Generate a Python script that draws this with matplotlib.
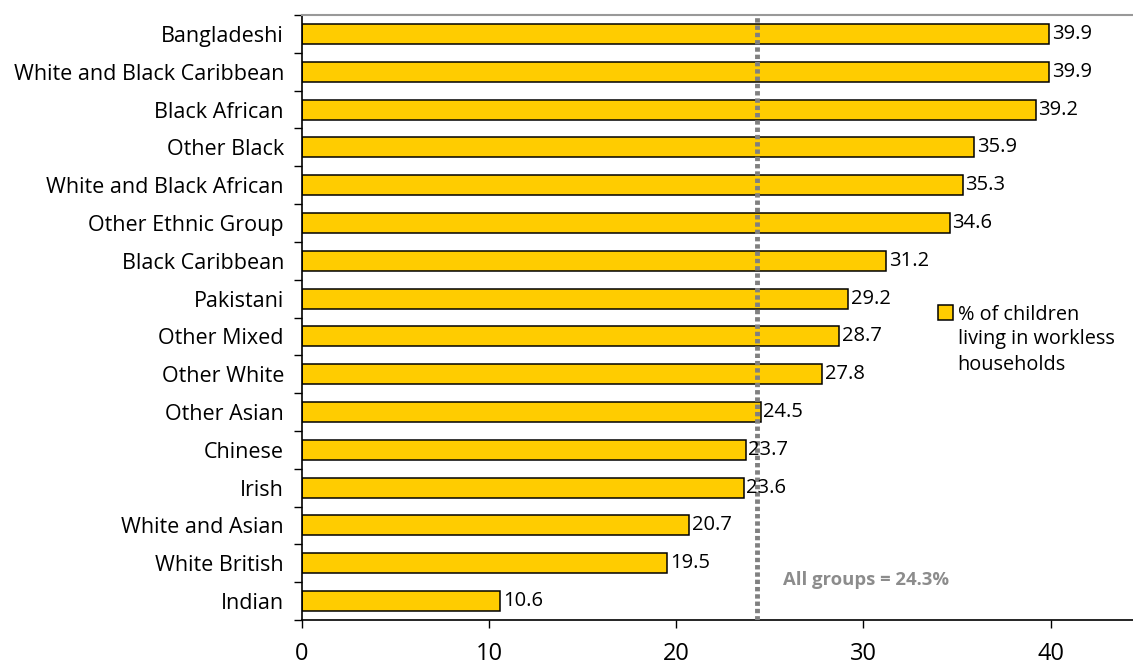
import numpy as np
import matplotlib.pyplot as plt
from matplotlib.patches import Patch

plt.rcParams['font.family'] = ['Open Sans', 'DejaVu Sans']

# share of children living in workless households, by ethnic group
groups = ['Bangladeshi', 'White and Black Caribbean', 'Black African', 'Other Black',
          'White and Black African', 'Other Ethnic Group', 'Black Caribbean', 'Pakistani',
          'Other Mixed', 'Other White', 'Other Asian', 'Chinese', 'Irish',
          'White and Asian', 'White British', 'Indian']
pct = [39.9, 39.9, 39.2, 35.9, 35.3, 34.6, 31.2, 29.2, 28.7, 27.8, 24.5, 23.7, 23.6,
       20.7, 19.5, 10.6]
all_groups = 24.3
xticks = [0, 10, 20, 30, 40]

fig = plt.figure(figsize=(11.33, 6.64), dpi=100)
ax = fig.add_axes([0.2665, 0.0663, 0.7335, 0.911])

y = np.arange(len(groups))
ax.barh(y, pct, height=0.53, color='#FFCC00', edgecolor='black', linewidth=1.1, zorder=2)
for yi, v in zip(y, pct):
    ax.text(v + 0.15, yi, f'{v:.1f}', va='center', ha='left', fontsize=14.5, zorder=4)

ax.axvline(all_groups, color='#808080', linestyle=(0, (0.9, 0.6)), linewidth=3.5, zorder=3)
ax.text(25.7, 14.45, f'All groups = {all_groups}%', color='#8c8c8c', fontsize=13.3,
        fontweight='bold', va='center', ha='left')

ax.set_ylim(len(groups) - 0.5, -0.5)
ax.set_xlim(0, 44.4)
ax.set_yticks(y)
ax.set_yticklabels(groups, fontsize=15.5)
ax.set_yticks(np.arange(len(groups) + 1) - 0.5, minor=True)
ax.tick_params(axis='y', which='major', length=0, pad=13)
ax.tick_params(axis='y', which='minor', length=6, width=1, direction='out')
ax.set_xticks(xticks)
ax.set_xticklabels([str(t) for t in xticks], fontsize=17)
ax.tick_params(axis='x', length=6, width=1, direction='out', pad=10)

ax.spines['right'].set_visible(False)
ax.spines['top'].set_color('#999999')
ax.spines['top'].set_linewidth(1.5)
ax.spines['left'].set_linewidth(1.2)
ax.spines['bottom'].set_linewidth(1.2)

# legend: swatch beside the first line, remaining lines wrap underneath
handle = Patch(facecolor='#FFCC00', edgecolor='black', linewidth=1.1)
leg = ax.legend([handle], ['% of children'], loc='center left',
                bbox_to_anchor=(0.765, 0.505), frameon=False, fontsize=14.3,
                handlelength=0.75, handleheight=0.75, handletextpad=0.25,
                borderaxespad=0, borderpad=0)
fig.canvas.draw()
bb = leg.get_texts()[0].get_window_extent(fig.canvas.get_renderer())
x0, y0 = ax.transAxes.inverted().transform((bb.x0, bb.y0 - 4))
ax.text(x0, y0, 'living in workless\nhouseholds', transform=ax.transAxes,
        va='top', ha='left', fontsize=14.3, linespacing=1.42)

fig.savefig('out.png', dpi=100)
